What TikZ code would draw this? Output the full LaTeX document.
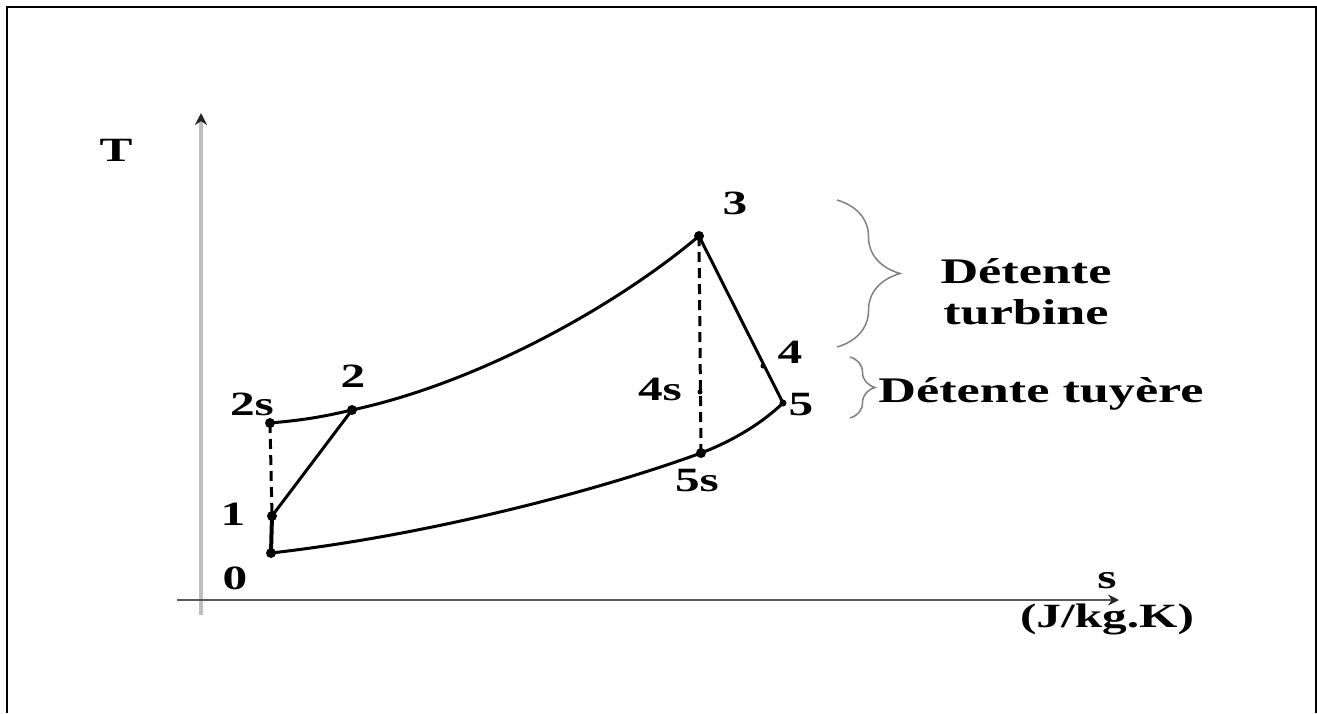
\documentclass[tikz,border=0pt]{standalone}
\usepackage{fontspec}
\setmainfont{Liberation Serif}
\usetikzlibrary{decorations.pathreplacing,arrows.meta}
\newcommand{\widetxt}[1]{\scalebox{1.45}[1]{#1}}
\begin{document}
\begin{tikzpicture}[x=1pt,y=-1pt,
  lbl/.style={font=\bfseries\fontsize{34}{42}\selectfont, inner sep=0pt},
  txt/.style={font=\bfseries\fontsize{36}{41}\selectfont, inner sep=0pt},
  dot/.style={circle, fill=black, inner sep=0pt, minimum size=10pt},
  tick/.style={circle, fill=black, inner sep=0pt, minimum size=5pt},
  curve/.style={line width=3pt, black},
  dsh/.style={line width=3pt, black, dash pattern=on 10pt off 6pt},
  brc/.style={gray, line width=1.5pt, decorate},
  frame/.style={line width=2.5pt, black}]
\useasboundingbox (0,0) rectangle (1317,713);
% frame
\coordinate (f1) at (7,713);
\coordinate (f2) at (7,7);
\coordinate (f3) at (1315.8,7);
\coordinate (f4) at (1315.8,713);
\draw[frame] (f1) -- (f2) -- (f3) -- (f4);
% axes
\coordinate (yb) at (201,615);
\coordinate (yt) at (201,113);
\coordinate (xl) at (177,600);
\coordinate (xr) at (1119,600);
\draw[gray!50, line width=3.5pt, -{Stealth[length=12pt,width=12pt,color=black!85]}] (yb) -- (yt);
\draw[black!65, line width=2.2pt, -{Stealth[length=11pt,width=11pt,color=black!85]}] (xl) -- (xr);
\node[lbl] (T) at (116,150) {\widetxt{T}};
\node[lbl] (s) at (1107,581) {\widetxt{s}};
\node[lbl] (unit) at (1107,619) {\widetxt{(J/kg.K)}};
% points
\node[dot] (p0) at (271,553) {};
\node[dot] (p1) at (272,516) {};
\node[dot] (p2s) at (270,423) {};
\node[dot] (p2) at (352,410) {};
\node[dot] (p3) at (699,236) {};
\node[dot] (p5s) at (701,453) {};
\node[dot, minimum size=7pt] (p5) at (783,403) {};
\node[tick] (t4) at (763,366) {};
\node[tick] (t4s) at (700,392) {};
% labels
\node[lbl] (l0) at (235,578) {\widetxt{0}};
\node[lbl] (l1) at (233,514) {\widetxt{1}};
\node[lbl] (l2s) at (252,404) {\widetxt{2s}};
\node[lbl] (l2) at (353,376) {\widetxt{2}};
\node[lbl] (l3) at (735,203) {\widetxt{3}};
\node[lbl] (l4) at (790,352) {\widetxt{4}};
\node[lbl] (l4s) at (660,389) {\widetxt{4s}};
\node[lbl] (l5) at (801,405) {\widetxt{5}};
\node[lbl] (l5s) at (697,481) {\widetxt{5s}};
% cycle
\draw[curve] (p2s.center) to[bend right=4] (p2.center);
\draw[curve] (p2.center) .. controls (482,382) and (620,303) .. (p3.center);
\draw[curve] (p0.center) .. controls (430,535) and (600,490) .. (p5s.center);
\draw[curve] (p5s.center) .. controls (730,442) and (760,425) .. (p5.center);
\draw[curve] (p3.center) -- (p5.center);
\draw[curve] (p1.center) -- (p2.center);
\draw[line width=4pt] (p0.center) -- (p1.center);
\draw[dsh] (p2s.center) -- (p1.center);
\draw[dsh] (p3.center) -- (p5s.center);
% braces
\coordinate (b1t) at (837,200);
\coordinate (b1b) at (837,347);
\coordinate (b2t) at (850,357);
\coordinate (b2b) at (850,418);
\draw[brc, decoration={brace, amplitude=63pt}] (b1t) -- (b1b);
\draw[brc, decoration={brace, amplitude=25pt}] (b2t) -- (b2b);
\node[txt] (turb) at (1026,296) {\widetxt{\begin{tabular}{@{}c@{}}Détente\\turbine\end{tabular}}};
\node[txt] (tuy) at (1041,394) {\widetxt{Détente tuyère}};
\end{tikzpicture}
\end{document}
